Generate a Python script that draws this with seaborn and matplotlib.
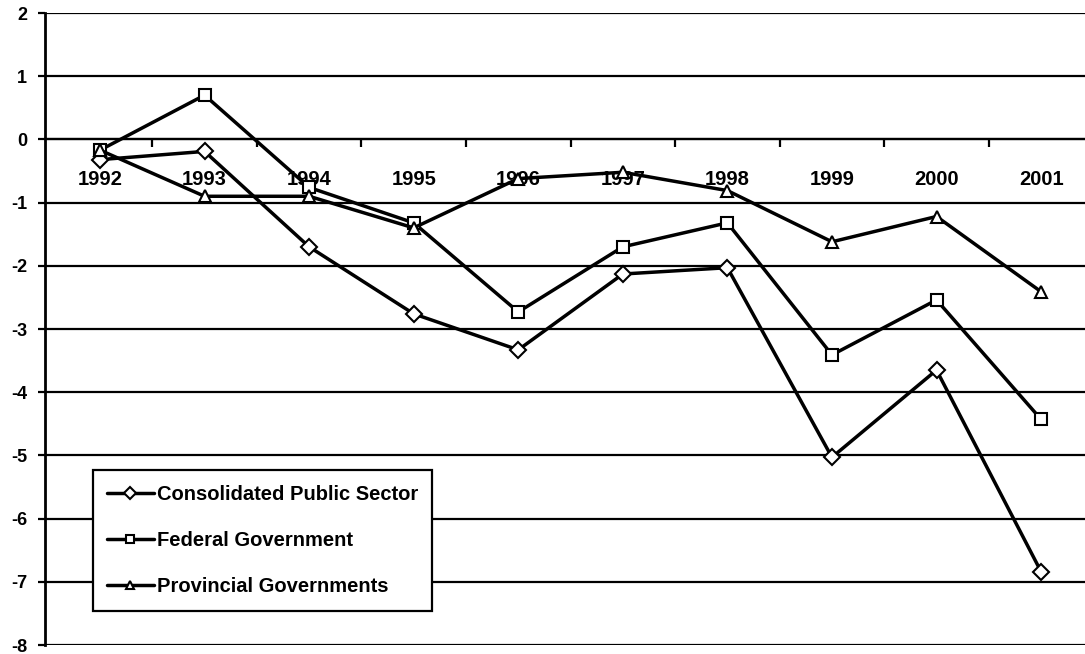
import pandas as pd
import matplotlib.pyplot as plt
import seaborn as sns

years = [1992, 1993, 1994, 1995, 1996, 1997, 1998, 1999, 2000, 2001]
consolidated = [-0.32, -0.19, -1.70, -2.76, -3.33, -2.13, -2.03, -5.03, -3.65, -6.84]
federal = [-0.17, 0.70, -0.76, -1.32, -2.73, -1.70, -1.32, -3.41, -2.54, -4.43]
provincial = [-0.17, -0.90, -0.90, -1.40, -0.62, -0.52, -0.81, -1.62, -1.22, -2.41]
series_names = ["Consolidated Public Sector", "Federal Government", "Provincial Governments"]

df = pd.concat([
    pd.DataFrame({"year": years, "value": consolidated, "series": series_names[0]}),
    pd.DataFrame({"year": years, "value": federal, "series": series_names[1]}),
    pd.DataFrame({"year": years, "value": provincial, "series": series_names[2]}),
])

sns.set_style("white")
plt.rcParams['font.family'] = ['Liberation Sans', 'DejaVu Sans']
plt.rcParams['font.weight'] = 'bold'
plt.rcParams['text.color'] = 'black'
plt.rcParams['xtick.color'] = 'black'
plt.rcParams['ytick.color'] = 'black'
plt.rcParams['axes.unicode_minus'] = False

fig = plt.figure(figsize=(10.85, 6.54), dpi=100)
ax = fig.add_axes([45 / 1085, 1 - 645 / 654, 1040 / 1085, 632 / 654])

# horizontal grid first so lines sit on top
for v in range(-8, 3):
    ax.axhline(v, color='black', lw=1.6, zorder=1)

sns.lineplot(data=df, x="year", y="value", hue="series", style="series",
             palette=['black'] * 3, markers=['D', 's', '^'], dashes=False,
             linewidth=2.5, markersize=8, markerfacecolor='white',
             markeredgecolor='black', markeredgewidth=1.5, ax=ax, zorder=3,
             legend=False)

ax.set_xlim(years[0] - 0.526, years[0] + 9.42)
ax.set_ylim(-8, 2)

ax.spines['top'].set_visible(False)
ax.spines['right'].set_visible(False)
ax.spines['bottom'].set_position(('data', 0))
ax.spines['bottom'].set_linewidth(1.6)
ax.spines['left'].set_linewidth(2)
ax.spines['left'].set_color('black')
ax.spines['bottom'].set_color('black')

ax.set_yticks(range(-8, 3))
ax.tick_params(axis='y', direction='out', length=5, width=1.6, color='black',
               labelsize=13, pad=8, left=True, labelcolor='black')
ax.set_xticks(years)
ax.set_xticklabels([str(y) for y in years])
ax.set_xticks([y + 0.5 for y in years[:-1]], minor=True)
ax.tick_params(axis='x', which='major', length=0, labelsize=14.5, pad=22,
               labelcolor='black')
ax.tick_params(axis='x', which='minor', direction='out', length=6, width=1.6,
               color='black', bottom=True)
for lab in ax.get_xticklabels() + ax.get_yticklabels():
    lab.set_fontweight('bold')
ax.set_xlabel("")
ax.set_ylabel("")

leg = ax.legend(handles=ax.lines[-3:], labels=series_names, loc='lower left',
                bbox_to_anchor=(0.046, 0.054), borderaxespad=0, frameon=True,
                fancybox=False, edgecolor='black', framealpha=1,
                prop={'weight': 'bold', 'size': 14.5}, labelspacing=1.35,
                handlelength=2.3, handletextpad=0.15, borderpad=0.72)
leg.get_frame().set_linewidth(1.6)
for h in leg.legend_handles:
    h.set_markersize(6)
    h.set_linewidth(2.5)
for t in leg.get_texts():
    t.set_color('black')

plt.savefig('out.png', dpi=100)
